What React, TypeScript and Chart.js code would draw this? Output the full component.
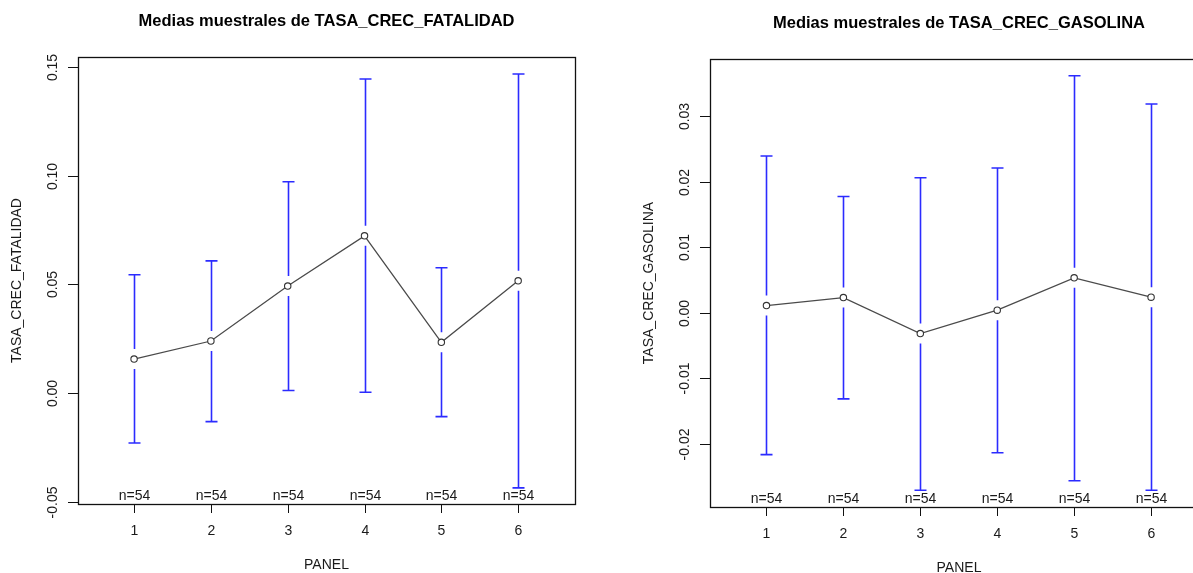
import React, { useEffect, useRef } from "react";
import { Chart, registerables } from "chart.js";
Chart.register(...registerables);

// ---------- data ----------
const panels = [1, 2, 3, 4, 5, 6];
const panelLabels = ["1", "2", "3", "4", "5", "6"];
const nLabels = ["n=54", "n=54", "n=54", "n=54", "n=54", "n=54"];

const fatMeans = [0.0156, 0.0239, 0.0492, 0.0723, 0.0233, 0.0516];
const fatUpper = [0.0544, 0.0608, 0.0972, 0.1445, 0.0576, 0.1468];
const fatLower = [-0.023, -0.0132, 0.0011, 0.0003, -0.0109, -0.0437];
const fatYTicks = [-0.05, 0, 0.05, 0.1, 0.15];
const fatYTickLabels = ["-0.05", "0.00", "0.05", "0.10", "0.15"];

const gasMeans = [0.00108, 0.0023, -0.00319, 0.00038, 0.00531, 0.00237];
const gasUpper = [0.02388, 0.01771, 0.02057, 0.02205, 0.03613, 0.03181];
const gasLower = [-0.02165, -0.01315, -0.02708, -0.02135, -0.02562, -0.02708];
const gasYTicks = [-0.02, -0.01, 0, 0.01, 0.02, 0.03];
const gasYTickLabels = ["-0.02", "-0.01", "0.00", "0.01", "0.02", "0.03"];

const FONT = "'Liberation Sans', Arial, sans-serif";
const TEXT = "#1a1a1a";

type Cfg = {
  title: string;
  titleY: number;
  yTitle: string;
  means: number[];
  upper: number[];
  lower: number[];
  yTicks: number[];
  yTickLabels: string[];
  yMin: number;
  yMax: number;
  xMin: number;
  xMax: number;
  padding: { left: number; right: number; top: number; bottom: number };
  width: number;
};

function makePlugin(cfg: Cfg) {
  return {
    id: "rdecor",
    beforeDatasetsDraw(chart: any) {
      const ctx = chart.ctx;
      const xs = chart.scales.x;
      const ys = chart.scales.y;
      const gap = 10;
      const cap = 6;
      ctx.save();
      ctx.strokeStyle = "#2b2bff";
      ctx.lineWidth = 1.6;
      panels.forEach((p, i) => {
        const x = Math.round(xs.getPixelForValue(p)) + 0.5;
        const yu = ys.getPixelForValue(cfg.upper[i]);
        const yl = ys.getPixelForValue(cfg.lower[i]);
        const ym = ys.getPixelForValue(cfg.means[i]);
        ctx.beginPath();
        ctx.moveTo(x, yu);
        ctx.lineTo(x, ym - gap);
        ctx.moveTo(x, ym + gap);
        ctx.lineTo(x, yl);
        ctx.moveTo(x - cap, yu);
        ctx.lineTo(x + cap, yu);
        ctx.moveTo(x - cap, yl);
        ctx.lineTo(x + cap, yl);
        ctx.stroke();
      });
      ctx.restore();
    },
    afterDraw(chart: any) {
      const ctx = chart.ctx;
      const a = chart.chartArea;
      const xs = chart.scales.x;
      const ys = chart.scales.y;
      ctx.save();
      // box
      ctx.strokeStyle = "#111";
      ctx.lineWidth = 1.3;
      ctx.strokeRect(Math.round(a.left) + 0.5, Math.round(a.top) + 0.5, Math.round(a.right - a.left), Math.round(a.bottom - a.top));
      // y ticks
      ctx.lineWidth = 1;
      ctx.fillStyle = TEXT;
      ctx.font = `14px ${FONT}`;
      cfg.yTicks.forEach((v, i) => {
        const y = Math.round(ys.getPixelForValue(v)) + 0.5;
        ctx.beginPath();
        ctx.moveTo(a.left - 10, y);
        ctx.lineTo(a.left, y);
        ctx.stroke();
        ctx.save();
        ctx.translate(a.left - 25, y);
        ctx.rotate(-Math.PI / 2);
        ctx.textAlign = "center";
        ctx.textBaseline = "middle";
        ctx.fillText(cfg.yTickLabels[i], 0, 0);
        ctx.restore();
      });
      // x ticks
      panels.forEach((p, i) => {
        const x = Math.round(xs.getPixelForValue(p)) + 0.5;
        ctx.beginPath();
        ctx.moveTo(x, a.bottom);
        ctx.lineTo(x, a.bottom + 9);
        ctx.stroke();
        ctx.textAlign = "center";
        ctx.textBaseline = "middle";
        ctx.fillText(panelLabels[i], x, a.bottom + 27);
        ctx.fillText(nLabels[i], x, a.bottom - 7.5);
      });
      // axis titles
      ctx.fillText("PANEL", (a.left + a.right) / 2, a.bottom + 61);
      ctx.save();
      ctx.translate(a.left - 60.5, (a.top + a.bottom) / 2);
      ctx.rotate(-Math.PI / 2);
      ctx.fillText(cfg.yTitle, 0, 0);
      ctx.restore();
      // main title
      ctx.font = `bold 16.5px ${FONT}`;
      ctx.fillStyle = "#000";
      ctx.fillText(cfg.title, (a.left + a.right) / 2, cfg.titleY);
      ctx.restore();
    },
  };
}

function RChart({ cfg, height }: { cfg: Cfg; height: number }) {
  const ref = useRef<HTMLCanvasElement>(null);
  useEffect(() => {
    if (!ref.current) return;
    const chart = new Chart(ref.current, {
      type: "line",
      data: {
        datasets: [
          {
            data: panels.map((p, i) => ({ x: p, y: cfg.means[i] })),
            borderColor: "#4a4a4a",
            borderWidth: 1.3,
            pointRadius: 3.2,
            pointBorderWidth: 1.1,
            pointBorderColor: "#333",
            pointBackgroundColor: "#fff",
            tension: 0,
          },
        ],
      },
      options: {
        animation: false,
        responsive: false,
        devicePixelRatio: 1,
        layout: { padding: cfg.padding, autoPadding: false },
        plugins: { legend: { display: false }, tooltip: { enabled: false }, title: { display: false } },
        scales: {
          x: { type: "linear", min: cfg.xMin, max: cfg.xMax, display: false },
          y: { type: "linear", min: cfg.yMin, max: cfg.yMax, display: false },
        },
      },
      plugins: [makePlugin(cfg)],
    } as any);
    return () => chart.destroy();
  }, [cfg]);
  return <canvas ref={ref} width={cfg.width} height={height} style={{ display: "block" }} />;
}

const fatCfg: Cfg = {
  title: "Medias muestrales de TASA_CREC_FATALIDAD",
  titleY: 21.5,
  yTitle: "TASA_CREC_FATALIDAD",
  means: fatMeans,
  upper: fatUpper,
  lower: fatLower,
  yTicks: fatYTicks,
  yTickLabels: fatYTickLabels,
  yMin: -0.0511,
  yMax: 0.1546,
  xMin: 0.27,
  xMax: 6.74,
  padding: { left: 78, right: 25, top: 57, bottom: 69 },
  width: 600,
};

const gasCfg: Cfg = {
  title: "Medias muestrales de TASA_CREC_GASOLINA",
  titleY: 23,
  yTitle: "TASA_CREC_GASOLINA",
  means: gasMeans,
  upper: gasUpper,
  lower: gasLower,
  yTicks: gasYTicks,
  yTickLabels: gasYTickLabels,
  yMin: -0.02963,
  yMax: 0.03868,
  xMin: 0.266,
  xMax: 6.74,
  padding: { left: 110, right: 32, top: 59, bottom: 66 },
  width: 640,
};

export default function App() {
  return (
    <div style={{ position: "absolute", left: 0, top: 0, width: 1193, height: 573, background: "#fff", overflow: "hidden" }}>
      <div style={{ position: "absolute", left: 0, top: 0, width: 600, height: 573 }}>
        <RChart cfg={fatCfg} height={573} />
      </div>
      <div style={{ position: "absolute", left: 600, top: 0, width: 593, height: 573, overflow: "hidden" }}>
        <RChart cfg={gasCfg} height={573} />
      </div>
    </div>
  );
}
